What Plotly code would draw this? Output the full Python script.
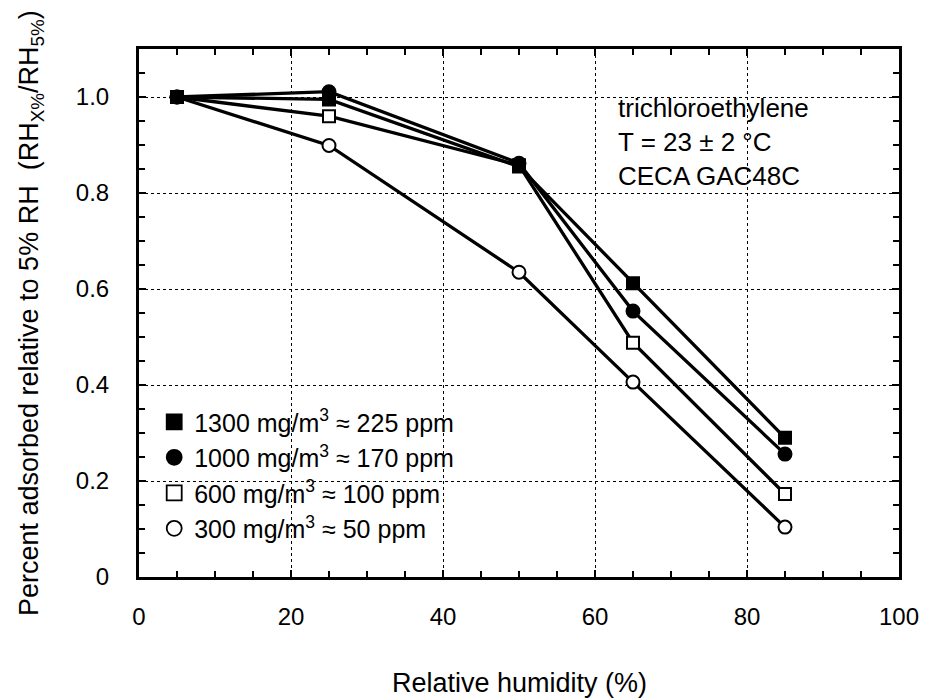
import plotly.graph_objects as go

rh = [5, 25, 50, 65, 85]
s1300 = [1.0, 0.995, 0.855, 0.612, 0.29]
s1000 = [1.0, 1.011, 0.862, 0.554, 0.256]
s600 = [1.0, 0.96, 0.858, 0.488, 0.173]
s300 = [1.0, 0.899, 0.635, 0.406, 0.104]

names = ["1300 mg/m<sup>3</sup> ≈ 225 ppm", "1000 mg/m<sup>3</sup> ≈ 170 ppm",
         "600 mg/m<sup>3</sup> ≈ 100 ppm", "300 mg/m<sup>3</sup> ≈ 50 ppm"]
series = [s1300, s1000, s600, s300]
symbols = ["square", "circle", "square", "circle"]
fills = ["black", "black", "white", "white"]

xticks = [0, 20, 40, 60, 80, 100]
yticks = [0, 0.2, 0.4, 0.6, 0.8, 1.0]
ytext = ["0", "0.2", "0.4", "0.6", "0.8", "1.0"]

FONT = "Liberation Sans, Arial, sans-serif"

fig = go.Figure()
for name, ys, sym, fc in reversed(list(zip(names, series, symbols, fills))):
    fig.add_trace(go.Scatter(
        x=rh, y=ys, mode="lines+markers", showlegend=False,
        line=dict(color="black", width=3.3),
        marker=dict(symbol=sym, size=13 if sym == "circle" else 12, color=fc,
                    line=dict(color="black", width=2)),
    ))
for name, ys, sym, fc in zip(names, series, symbols, fills):
    fig.add_trace(go.Scatter(
        x=[None], y=[None], mode="markers", name=name,
        marker=dict(symbol=sym, size=15, color=fc,
                    line=dict(color="black", width=1.8)),
    ))

axis_common = dict(
    showline=True, linecolor="black", linewidth=3, mirror="ticks",
    ticks="inside", ticklen=7, tickwidth=2, tickcolor="black",
    showgrid=True, gridcolor="black", gridwidth=1.2, griddash="dot",
    zeroline=False,
    tickfont=dict(family=FONT, size=24, color="black"),
)

fig.update_xaxes(range=[0, 100], tickvals=xticks,
                 minor=dict(dtick=5, ticks="inside", ticklen=6, tickwidth=2,
                            tickcolor="black", showgrid=False),
                 ticklabelstandoff=16, **axis_common)
fig.update_yaxes(range=[0, 1.1], tickvals=yticks, ticktext=ytext,
                 minor=dict(dtick=0.05, ticks="inside", ticklen=6, tickwidth=2,
                            tickcolor="black", showgrid=False),
                 ticklabelstandoff=22, **axis_common)

fig.add_annotation(
    x=0.628, y=0.92, xref="paper", yref="paper", xanchor="left", yanchor="top",
    text="trichloroethylene<br>T = 23 ± 2 °C<br>CECA GAC48C", showarrow=False,
    align="left", font=dict(family=FONT, size=26, color="black"),
)
fig.add_annotation(
    x=0.5, y=-0.2, xref="paper", yref="paper", xanchor="center", yanchor="middle",
    text="Relative humidity (%)", showarrow=False,
    font=dict(family=FONT, size=27, color="black"),
)
fig.add_annotation(
    x=-0.142, y=0.5, xref="paper", yref="paper", xanchor="center", yanchor="middle",
    textangle=-90, showarrow=False,
    text="Percent adsorbed relative to 5% RH  (RH<sub>X%</sub>/RH<sub>5%</sub>)",
    font=dict(family=FONT, size=27, color="black"),
)

fig.update_layout(
    width=931, height=699,
    margin=dict(l=139, r=27, t=49, b=122),
    paper_bgcolor="white", plot_bgcolor="white",
    legend=dict(x=0.02, y=0.337, xanchor="left", yanchor="top",
                bgcolor="rgba(0,0,0,0)", tracegroupgap=0, itemwidth=30,
                font=dict(family=FONT, size=25, color="black")),
)

fig.write_html("out.html")
